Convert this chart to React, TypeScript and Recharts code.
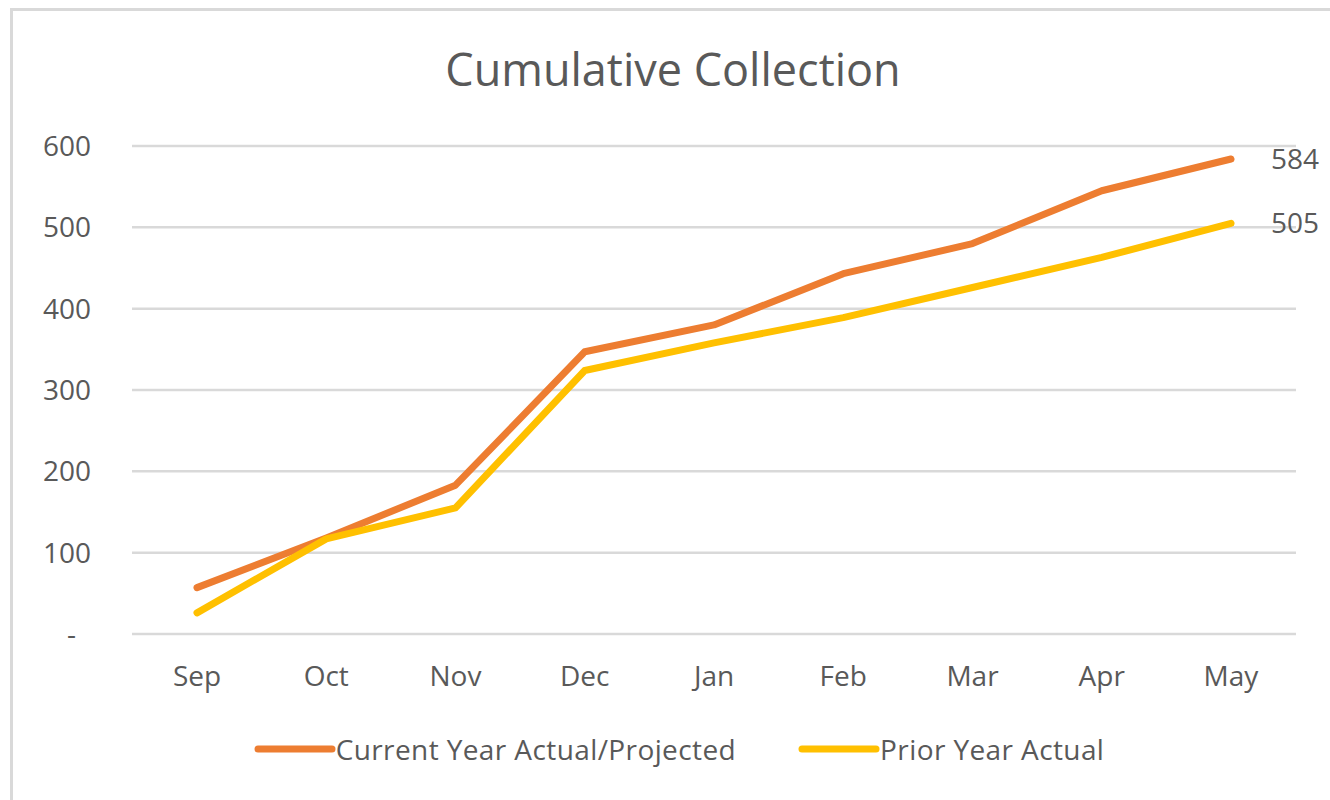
import { LineChart, Line, XAxis, YAxis, CartesianGrid, Legend, LabelList } from "recharts";

const months = ["Sep", "Oct", "Nov", "Dec", "Jan", "Feb", "Mar", "Apr", "May"];
const currentYear = [57, 118, 183, 347, 380, 443, 480, 545, 584];
const priorYear = [26, 117, 155, 324, 358, 389, 426, 463, 505];
const yTicks = [0, 100, 200, 300, 400, 500, 600];

const rows = months.map((m, i) => ({ month: m, current: currentYear[i], prior: priorYear[i] }));

const textColor = "#595959";
const font = "'Open Sans', sans-serif";

function YTick(props: any) {
  const { x, y, payload } = props;
  const isZero = payload.value === 0;
  return (
    <text x={isZero ? x - 15 : x} y={y} dy="0.355em" textAnchor="end" fill={textColor} fontSize={28} fontFamily={font}>
      {isZero ? "-" : payload.value}
    </text>
  );
}

function endLabel(props: any) {
  const { x, y, value, index } = props;
  if (index !== months.length - 1) return null;
  return (
    <text x={x + 40} y={y} dy="0.355em" fill={textColor} fontSize={28} fontFamily={font}>
      {value}
    </text>
  );
}

function LegendBox(props: any) {
  const items = props.payload || [];
  return (
    <div style={{ display: "flex", justifyContent: "center", gap: 62, paddingLeft: 62 }}>
      {items.map((it: any) => (
        <div key={it.value} style={{ display: "flex", alignItems: "center" }}>
          <svg width={82} height={12}>
            <line x1={4} y1={6} x2={78} y2={6} stroke={it.color} strokeWidth={7} strokeLinecap="round" />
          </svg>
          <span style={{ color: textColor, fontSize: 28, fontFamily: font, letterSpacing: 0.4 }}>
            {it.value}
          </span>
        </div>
      ))}
    </div>
  );
}

export default function App() {
  return (
    <div style={{ position: "absolute", left: 0, top: 0, width: 1330, height: 800, background: "#fff" }}>
      <div style={{ position: "absolute", left: 10, top: 8, width: 1330, height: 800, borderLeft: "3px solid #d9d9d9", borderTop: "3px solid #d9d9d9" }} />
      <div style={{ position: "absolute", left: 0, top: 38, width: 1346, textAlign: "center", color: textColor, fontSize: 45, fontFamily: font }}>
        Cumulative Collection
      </div>
      <div style={{ position: "absolute", left: 0, top: 0 }}>
        <LineChart width={1330} height={800} data={rows} margin={{ top: 146, right: 34, bottom: 32, left: 0 }}>
          <CartesianGrid vertical={false} stroke="#d9d9d9" strokeWidth={2.5} />
          <XAxis
            dataKey="month"
            axisLine={false}
            tickLine={false}
            tickSize={0}
            tickMargin={32}
            height={96}
            padding={{ left: 65, right: 65 }}
            tick={{ fill: textColor, fontSize: 28, fontFamily: font }}
          />
          <YAxis
            domain={[0, 600]}
            ticks={yTicks}
            axisLine={false}
            tickLine={false}
            tickSize={0}
            tickMargin={41}
            width={132}
            tick={<YTick />}
          />
          <Legend verticalAlign="bottom" content={<LegendBox />} />
          <Line
            type="linear"
            dataKey="current"
            name="Current Year Actual/Projected"
            stroke="#ED7D31"
            strokeWidth={7}
            strokeLinecap="round"
            strokeLinejoin="round"
            dot={false}
            isAnimationActive={false}
          >
            <LabelList dataKey="current" content={endLabel} />
          </Line>
          <Line
            type="linear"
            dataKey="prior"
            name="Prior Year Actual"
            stroke="#FFC000"
            strokeWidth={7}
            strokeLinecap="round"
            strokeLinejoin="round"
            dot={false}
            isAnimationActive={false}
          >
            <LabelList dataKey="prior" content={endLabel} />
          </Line>
        </LineChart>
      </div>
    </div>
  );
}
